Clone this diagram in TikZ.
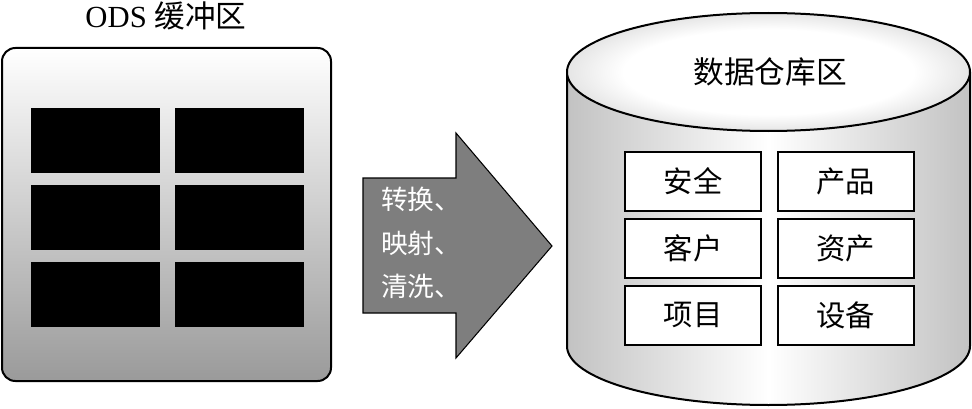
\documentclass[tikz,border=0pt]{standalone}
\usepackage{fontspec}
\setmainfont{Liberation Serif}
\newfontfamily\cjk{Noto Sans CJK SC}
\usepackage{tikz}
\usetikzlibrary{positioning}
\definecolor{cellblack}{HTML}{000000}
\definecolor{arrowgray}{HTML}{7E7E7E}
\definecolor{shadegray}{HTML}{9A9A9A}
\pgfdeclarehorizontalshading{cylbody}{100bp}{color(0bp)=(shadegray); color(25bp)=(shadegray!60!white); color(50bp)=(white); color(75bp)=(shadegray!60!white); color(100bp)=(shadegray)}
\pgfdeclareradialshading{cyltop}{\pgfpoint{0bp}{0bp}}{color(0bp)=(white); color(18bp)=(white); color(50bp)=(shadegray!90!black)}

\begin{document}
\begin{tikzpicture}[
    x=0.75pt, y=0.75pt,
    cell/.style={fill=cellblack, minimum width=96.75pt, minimum height=48.75pt, inner sep=0pt},
    tbox/.style={draw, line width=1.5pt, fill=white, minimum width=102pt, minimum height=44.25pt, inner sep=0pt, font=\cjk\fontsize{22}{26}\selectfont},
    titletext/.style={font=\fontsize{23}{27}\selectfont},
]
    \useasboundingbox (0,0) rectangle (972,408);

    % ODS buffer
    \node[titletext] (odstitle) at (166,392) {ODS {\cjk 缓冲区}};
    \node[draw, line width=1.5pt, rounded corners=10pt, top color=white, bottom color=shadegray,
          minimum width=246.75pt, minimum height=249.75pt, inner sep=0pt] (buffer) at (166.5,193.5) {};
    \node[cell] (c11) at (95,267.5) {};
    \node[cell] (c12) at (239.5,267.5) {};
    \node[cell] (c21) at (95,190.5) {};
    \node[cell] (c22) at (239.5,190.5) {};
    \node[cell] (c31) at (95,113.5) {};
    \node[cell] (c32) at (239.5,113.5) {};

    % Arrow
    \draw[line width=0.8pt, fill=arrowgray] (363,230) -- (456,230) -- (456,275) -- (552,162)
        -- (456,50) -- (456,95) -- (363,95) -- cycle;
    \node[align=left, text=white, font=\cjk\fontsize{20}{32.5}\selectfont] (steps) at (421,165)
        {转换、\\映射、\\清洗、};

    % Warehouse cylinder
    \shade[shading=cylbody]
        (567,336) -- (567,62) arc[start angle=180, end angle=360, x radius=201.5, y radius=59] -- (970,336) -- cycle;
    \draw[line width=1.5pt] (567,336) -- (567,62) arc[start angle=180, end angle=360, x radius=201.5, y radius=59] -- (970,336);
    \shade[draw, line width=1.5pt, shading=cyltop] (768.5,336) ellipse[x radius=201.5, y radius=59];
    \node[font=\cjk\fontsize{23}{27}\selectfont] (whtitle) at (770,336) {数据仓库区};

    \node[tbox] (safe) at (693,226.5) {安全};
    \node[tbox] (product) at (845.5,226.5) {产品};
    \node[tbox] (client) at (693,160) {客户};
    \node[tbox] (asset) at (845.5,160) {资产};
    \node[tbox] (project) at (693,93) {项目};
    \node[tbox] (device) at (845.5,93) {设备};
\end{tikzpicture}
\end{document}
